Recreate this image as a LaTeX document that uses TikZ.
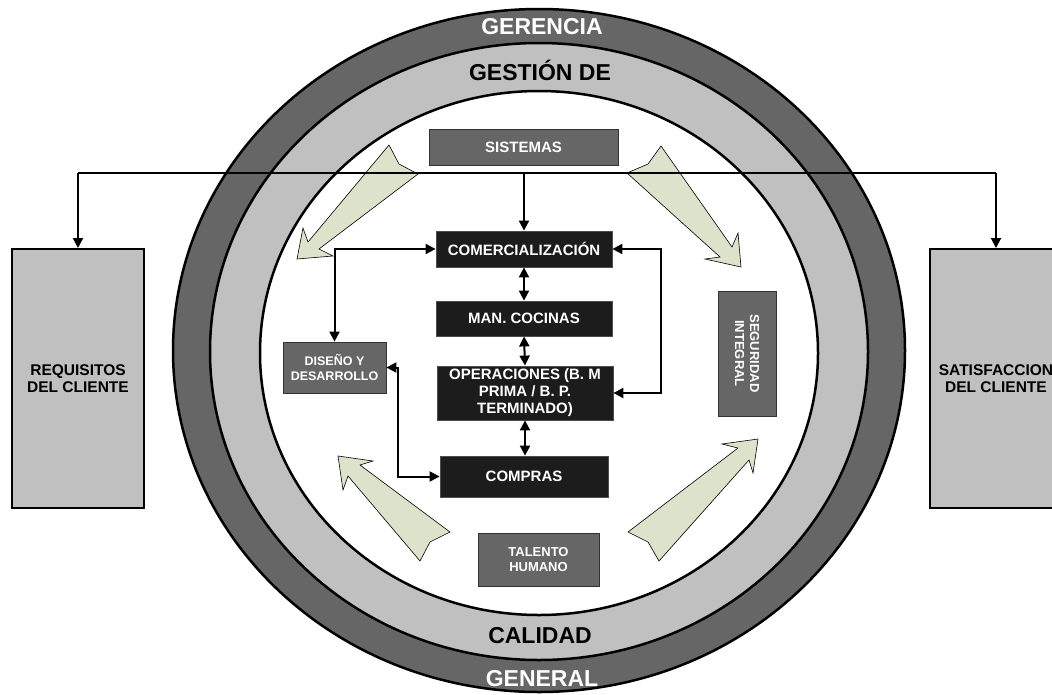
\documentclass[tikz,border=0pt]{standalone}
\usepackage{fontspec}
\setmainfont{Liberation Sans}
\usetikzlibrary{arrows.meta}
\definecolor{ringdark}{HTML}{666666}
\definecolor{ringlight}{HTML}{C0C0C0}
\definecolor{boxgray}{HTML}{666666}
\definecolor{boxblack}{HTML}{1C1C1C}
\definecolor{arrowgreen}{HTML}{DDE2CB}
\tikzset{
  ring/.style={draw=black, line width=2.5pt},
  darkbox/.style={fill=boxblack, draw=gray!60!black, line width=0.8pt, text=white, font=\bfseries\fontsize{15}{17}\selectfont, align=center, inner sep=0pt},
  graybox/.style={fill=boxgray, draw=black!80, line width=0.8pt, text=white, align=center, inner sep=0pt},
  sidebox/.style={fill=ringlight, draw=black, line width=2pt, text=black, font=\bfseries\fontsize{15.5}{17}\selectfont, align=center, inner sep=0pt, minimum width=132pt, minimum height=259pt},
  conn/.style={draw=black, line width=2pt, arrows={-Triangle[length=10pt,width=10pt]}},
  biconn/.style={draw=black, line width=2pt, arrows={Triangle[length=10pt,width=10pt]-Triangle[length=10pt,width=10pt]}},
  plainconn/.style={draw=black, line width=2pt},
  bigarrow/.style={fill=arrowgreen, draw=black, line width=0.6pt, line join=miter},
  ringtext/.style={font=\bfseries\fontsize{23}{25}\selectfont, inner sep=0pt, anchor=base}
}
\begin{document}
\begin{tikzpicture}[x=1pt,y=-1pt]
\useasboundingbox (0,0) rectangle (1052,694);
\clip (0,0) rectangle (1052,694);
% rings
\filldraw[ring, fill=ringdark] (539,350.5) ellipse [x radius=366, y radius=341.5];
\filldraw[ring, fill=ringlight] (539,351.5) ellipse [x radius=329, y radius=308.5];
\filldraw[ring, fill=white] (539,353) ellipse [x radius=279, y radius=262];
\node[ringtext, text=white] (gerencia) at (542,34) {GERENCIA};
\node[ringtext, text=black] (gestion) at (540,80) {GESTIÓN DE};
\node[ringtext, text=black] (calidad) at (540,643) {CALIDAD};
\node[ringtext, text=white] (general) at (542,686) {GENERAL};
% green block arrows
\draw[bigarrow] (389,145) -- (399,164) -- (418,174) -- (319,249) -- (333,256) -- (297,259) -- (303,228) -- (308,242) -- cycle;
\draw[bigarrow] (661,146) -- (648,164) -- (627,173) -- (720,257) -- (705,259) -- (741,267) -- (738,233) -- (732,247) -- cycle;
\draw[bigarrow] (450,532) -- (430,542) -- (420,561) -- (348,476) -- (343,490) -- (338,456) -- (373,461) -- (360,465) -- cycle;
\draw[bigarrow] (628,532) -- (648,542) -- (659,561) -- (749,460) -- (753,473) -- (758,439) -- (722,444) -- (738,448) -- cycle;
% boxes
\node[graybox, font=\bfseries\fontsize{15}{17}\selectfont, minimum width=189pt, minimum height=36pt] (sis) at (523.5,147) {SISTEMAS};
\node[darkbox, minimum width=176pt, minimum height=36pt] (com) at (524,249) {COMERCIALIZACIÓN};
\node[darkbox, minimum width=176pt, minimum height=35pt] (man) at (524,318.5) {MAN. COCINAS};
\node[darkbox, minimum width=176pt, minimum height=54pt] (ope) at (525,393) {OPERACIONES (B. M\\PRIMA / B. P.\\TERMINADO)};
\node[darkbox, minimum width=168pt, minimum height=41pt] (cpr) at (524,476.5) {COMPRAS};
\node[graybox, font=\bfseries\fontsize{12.5}{14.5}\selectfont, minimum width=103pt, minimum height=51pt] (dis) at (334.5,367.5) {DISEÑO Y\\DESARROLLO};
\node[graybox, font=\bfseries\fontsize{13}{15}\selectfont, minimum width=125pt, minimum height=58pt, rotate=-90] (seg) at (747,353.5) {SEGURIDAD\\INTEGRAL};
\node[graybox, font=\bfseries\fontsize{13}{14.5}\selectfont, minimum width=121pt, minimum height=53pt] (tal) at (538.5,559.5) {TALENTO\\HUMANO};
\node[sidebox] (req) at (78,378.5) {REQUISITOS\\DEL CLIENTE};
\node[sidebox] (sat) at (996,378.5) {SATISFACCION\\DEL CLIENTE};
% connectors
\coordinate (tl) at (78,173);
\coordinate (tr) at (996,173);
\coordinate (tm) at (524,173);
\draw[plainconn] (tl) -- (tr);
\draw[conn] (tl) -- (req.north);
\draw[conn] (tr) -- (sat.north);
\draw[conn] (tm) -- (com.north);
\draw[biconn] (com.south) -- (man.north);
\draw[biconn] (man.south) -- (ope.north);
\draw[biconn] (ope.south) -- (ope.south |- cpr.north);
\draw[biconn] (com.east) -- ++(49,0) |- (ope.east);
\draw[biconn] (com.west) -| (dis.north);
\draw[biconn] (cpr.west) -- ++(-42,0) |- (dis.east);
\end{tikzpicture}
\end{document}
